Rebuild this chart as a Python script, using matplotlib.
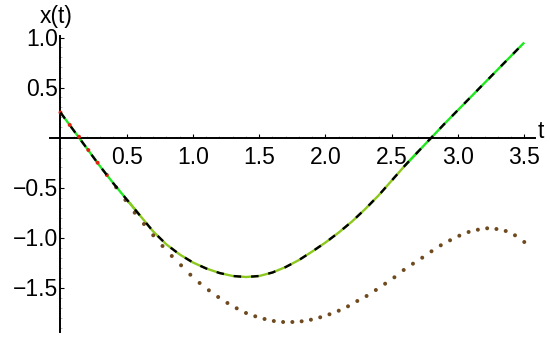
import numpy as np
import matplotlib
matplotlib.use("Agg")
import matplotlib.pyplot as plt
from matplotlib.ticker import MultipleLocator, FixedLocator

plt.rcParams['font.family'] = ['Liberation Sans', 'DejaVu Sans']

# solid curve (green with black dashes on top), read at t = 0, 0.1, ... 3.5
t_line = [0.0, 0.1, 0.2, 0.3, 0.4, 0.5, 0.6, 0.7, 0.8, 0.9,
          1.0, 1.1, 1.2, 1.3, 1.4, 1.5, 1.6, 1.7, 1.8, 1.9,
          2.0, 2.1, 2.2, 2.3, 2.4, 2.5, 2.6, 2.7, 2.8, 2.9,
          3.0, 3.1, 3.2, 3.3, 3.4, 3.5]
x_line = [0.25, 0.07, -0.11, -0.29, -0.46, -0.62, -0.78, -0.94, -1.07, -1.17,
          -1.25, -1.31, -1.355, -1.385, -1.395, -1.385, -1.35, -1.295, -1.225, -1.14,
          -1.05, -0.95, -0.84, -0.715, -0.58, -0.43, -0.28, -0.14, 0.0, 0.14,
          0.275, 0.41, 0.545, 0.68, 0.815, 0.95]

# dotted curve, one dot every 0.07
t_dots = [0.00, 0.07, 0.14, 0.21, 0.28, 0.35, 0.42, 0.49, 0.56, 0.63,
          0.70, 0.77, 0.84, 0.91, 0.98, 1.05, 1.12, 1.19, 1.26, 1.33,
          1.40, 1.47, 1.54, 1.61, 1.68, 1.75, 1.82, 1.89, 1.96, 2.03,
          2.10, 2.17, 2.24, 2.31, 2.38, 2.45, 2.52, 2.59, 2.66, 2.73,
          2.80, 2.87, 2.94, 3.01, 3.08, 3.15, 3.22, 3.29, 3.36, 3.43, 3.50]
x_dots = [0.25, 0.125, 0.008, -0.125, -0.252, -0.375, -0.498, -0.625, -0.752, -0.865,
          -0.978, -1.085, -1.185, -1.278, -1.372, -1.455, -1.528, -1.595, -1.655, -1.708,
          -1.755, -1.788, -1.815, -1.835, -1.845, -1.845, -1.838, -1.822, -1.798, -1.768,
          -1.732, -1.688, -1.635, -1.585, -1.525, -1.462, -1.398, -1.325, -1.262, -1.202,
          -1.138, -1.078, -1.028, -0.982, -0.945, -0.922, -0.908, -0.915, -0.935, -0.978, -1.045]

x_ticks = [0.5, 1.0, 1.5, 2.0, 2.5, 3.0, 3.5]
y_ticks = [-1.5, -1.0, -0.5, 0.5, 1.0]

W, H = 550, 338
fig = plt.figure(figsize=(W / 100, H / 100), dpi=100)
# axes box in pixels: left 50, right 535, top 36, bottom 332
ax = fig.add_axes([50 / W, (H - 332) / H, (535 - 50) / W, (332 - 36) / H])
ax.set_xlim(-0.079, 3.581)
ax.set_ylim(-1.945, 1.015)

# green line, colour drifts towards yellow-green in the middle part
t_arr = np.array(t_line)
x_arr = np.array(x_line)
lw = 1.7
mid = (t_arr >= 0.5) & (t_arr <= 2.7)
ax.plot(t_arr[t_arr <= 0.6], x_arr[t_arr <= 0.6], color='#1ee81e', lw=lw, zorder=2,
        solid_capstyle='butt')
ax.plot(t_arr[mid], x_arr[mid], color='#8cc81e', lw=lw, zorder=2, solid_capstyle='butt')
ax.plot(t_arr[t_arr >= 2.6], x_arr[t_arr >= 2.6], color='#1ee81e', lw=lw, zorder=2,
        solid_capstyle='butt')

# dots: red at the start, brown afterwards
dot_cols = ['#e2220f' if t < 0.4 else '#6e4a1e' for t in t_dots]
ax.scatter(t_dots, x_dots, s=8, c=dot_cols, linewidths=0, zorder=3)

# black dashes on top
ax.plot(t_line, x_line, color='black', lw=lw, dashes=(3.2, 4.2), zorder=4,
        dash_capstyle='butt')

# axes through the origin
for side in ['top', 'right']:
    ax.spines[side].set_visible(False)
ax.spines['left'].set_position(('data', 0))
ax.spines['bottom'].set_position(('data', 0))
ax.spines['left'].set_linewidth(1.4)
ax.spines['bottom'].set_linewidth(1.4)

ax.xaxis.set_major_locator(FixedLocator(x_ticks))
ax.yaxis.set_major_locator(FixedLocator(y_ticks))
ax.xaxis.set_minor_locator(MultipleLocator(0.1))
ax.yaxis.set_minor_locator(MultipleLocator(0.1))
ax.set_xticklabels(['%.1f' % v for v in x_ticks])
ax.set_yticklabels(['\u2212%.1f' % -v if v < 0 else '%.1f' % v for v in y_ticks])
ax.tick_params(which='major', direction='in', length=3, width=0.8, labelsize=16.5)
ax.tick_params(which='minor', direction='in', length=1.5, width=0.5, color='#999999')
ax.tick_params(axis='x', pad=6)
ax.tick_params(axis='y', pad=2)

fig.text(56 / W, 1 - 17 / H, 'x(t)', ha='center', va='center', fontsize=16.5)
fig.text(541 / W, 1 - 131 / H, 't', ha='center', va='center', fontsize=16.5)

fig.savefig('out.png', dpi=100)
